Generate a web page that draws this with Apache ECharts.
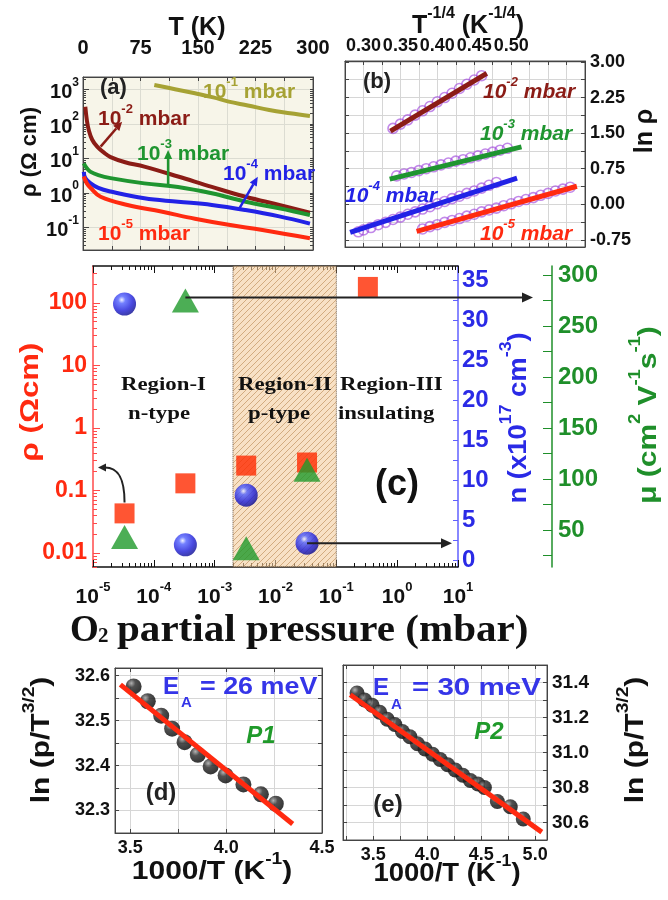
<!DOCTYPE html>
<html>
<head>
<meta charset="utf-8">
<script src="https://cdn.jsdelivr.net/npm/echarts@6/dist/echarts.min.js"></script>
<style>html,body{margin:0;background:#fff}#main{width:668px;height:900px}</style>
</head>
<body>
<div id="main"></div>
<script>
// ---- (a) resistivity vs temperature, [T (K), rho (ohm cm)]
var rhoT_1e1 = [[93,1350],[120,1020],[146,775],[170,590],[190,445],[215,345],[243,255],[270,205],[296,170]];
var rhoT_1e2 = [[3,316],[5,130],[7.5,67],[12,35],[18.5,22],[27,15],[36,11],[55,7.8],[80,5.8],[124,3],[168,1.5],[212,0.78],[256,0.45],[296,0.27]];
var rhoT_1e3 = [[1,7.2],[5,5.2],[10,4.1],[20,3.3],[36,2.7],[80,1.9],[124,1.5],[168,0.98],[212,0.56],[256,0.36],[296,0.23]];
var rhoT_1e4 = [[1,4.1],[3,2.7],[10,1.9],[20,1.4],[36,1.1],[80,0.7],[124,0.56],[168,0.45],[212,0.32],[256,0.21],[296,0.13]];
var rhoT_1e5 = [[1,3],[5,1.9],[10,1.4],[23,0.78],[58,0.45],[102,0.29],[146,0.18],[190,0.12],[234,0.085],[296,0.049]];

// ---- (b) ln rho vs T^-1/4 : measured points (open circles) and linear fits
var vrh_1e2 = [[0.34,1.60],[0.35,1.69],[0.36,1.78],[0.37,1.88],[0.38,1.97],[0.39,2.06],[0.40,2.16],[0.41,2.25],[0.42,2.34],[0.43,2.44],[0.44,2.53],[0.45,2.62],[0.46,2.71]];
var vrh_1e3 = [[0.345,0.60],[0.355,0.64],[0.365,0.67],[0.375,0.71],[0.385,0.75],[0.395,0.79],[0.405,0.83],[0.415,0.87],[0.425,0.91],[0.435,0.94],[0.445,0.98],[0.455,1.02],[0.465,1.06],[0.475,1.10],[0.485,1.14],[0.495,1.18]];
var vrh_1e4 = [[0.293,-0.58],[0.30,-0.54],[0.31,-0.49],[0.32,-0.43],[0.33,-0.38],[0.34,-0.32],[0.35,-0.27],[0.36,-0.21],[0.37,-0.16],[0.38,-0.10],[0.39,-0.05],[0.40,0.01],[0.41,0.06],[0.42,0.12],[0.43,0.17],[0.44,0.23],[0.45,0.28],[0.46,0.34],[0.47,0.40],[0.48,0.46]];
var vrh_1e5 = [[0.38,-0.52],[0.39,-0.47],[0.40,-0.43],[0.41,-0.38],[0.42,-0.34],[0.43,-0.30],[0.44,-0.25],[0.45,-0.21],[0.46,-0.16],[0.47,-0.12],[0.48,-0.08],[0.49,-0.03],[0.50,0.01],[0.51,0.06],[0.52,0.10],[0.53,0.14],[0.54,0.19],[0.55,0.23],[0.56,0.28],[0.57,0.32],[0.58,0.36]];
var fit_1e2 = [[0.3365,1.54],[0.467,2.76]];
var fit_1e3 = [[0.3356,0.53],[0.514,1.21]];
var fit_1e4 = [[0.282,-0.59],[0.508,0.55]];
var fit_1e5 = [[0.372,-0.57],[0.589,0.38]];

// ---- (c) vs O2 partial pressure (mbar)
var pO2 = [3.3e-5, 3.3e-4, 3.3e-3, 3.3e-2, 3.3e-1];
var rhoC = [0.043, 0.13, 0.25, 0.28, 180];      // ohm cm
var nC = [32, 1.9, 8.1, 2.1];                   // x1e17 cm^-3
var muC = [43, 275, 32, 109];                   // cm2/Vs
var regionII = [2e-3, 0.1];

// ---- (d), (e) ln(p/T^3/2) vs 1000/T
var invT_P1 = [3.517,3.591,3.661,3.718,3.783,3.852,3.919,3.997,4.090,4.181,4.259];
var lnP1 = [32.576,32.543,32.511,32.482,32.452,32.424,32.398,32.378,32.358,32.336,32.315];
var fit_P1 = [[3.448,32.58],[4.347,32.27]];
var invT_P2 = [3.35,3.42,3.49,3.56,3.63,3.70,3.77,3.84,3.91,3.98,4.05,4.12,4.19,4.26,4.33,4.40,4.47,4.53,4.65,4.77,4.89];
var lnP2 = [31.34,31.30,31.27,31.23,31.19,31.16,31.12,31.09,31.05,31.02,30.99,30.96,30.93,30.90,30.87,30.84,30.82,30.80,30.72,30.69,30.62];
var fit_P2 = [[3.287,31.33],[5.062,30.545]];

// ---- tick labels
var tTicksA = [0, 75, 150, 225, 300];
var rhoDecadesA = [-1, 0, 1, 2, 3];
var lnRhoTicks = [-0.75, 0, 0.75, 1.5, 2.25, 3.0];
var lnGridB = [-0.75, -0.375, 0, 0.375, 0.75, 1.125, 1.5, 1.875, 2.25, 2.625, 3.0];
var rhoDecadesC = [-2, -1, 0, 1, 2];
var rhoLabelsC = ['0.01', '0.1', '1', '10', '100'];
var nTicks = [0, 5, 10, 15, 20, 25, 30, 35];
var nGridC = [0, 2.5, 5, 7.5, 10, 12.5, 15, 17.5, 20, 22.5, 25, 27.5, 30, 32.5, 35];
var muTicks = [50, 100, 150, 200, 250, 300];
var muGridC = [25, 50, 75, 100, 125, 150, 175, 200, 225, 250, 275, 300];
var invTGridD = [3.5, 3.75, 4.0, 4.25, 4.5];
var invTTicksD = [3.5, 4.0, 4.5];
var lnTicksD = [32.3, 32.4, 32.5, 32.6];
var invTGridE = [3.25, 3.5, 3.75, 4.0, 4.25, 4.5, 4.75, 5.0];
var invTTicksE = [3.5, 4.0, 4.5, 5.0];
var lnTicksE = [30.6, 30.8, 31.0, 31.2, 31.4];

var S = 'Liberation Sans, Arial, sans-serif';
var SR = 'Liberation Serif, Times New Roman, serif';
var C_OLIVE = '#a6a234', C_DRED = '#8b1c16', C_GREEN = '#1f9530', C_BLUE = '#2222e6', C_RED = '#ff2a10';

function rich(size, color, opt) {
  opt = opt || {};
  var w = opt.weight || 'bold', st = opt.style || 'normal', fam = opt.family || S;
  var lh = Math.round(size * (opt.lh || 1.3));
  var ss = Math.round(size * (opt.ss || 0.62));
  return {
    b: {fontSize: size, fontWeight: w, fontStyle: st, fontFamily: fam, fill: color, color: color, lineHeight: lh, verticalAlign: 'bottom'},
    s: {fontSize: ss, fontWeight: w, fontStyle: st, fontFamily: fam, fill: color, color: color, verticalAlign: 'top'}
  };
}

function minorTicks(d0, d1, lo, hi) {
  var r = [];
  for (var d = d0; d <= d1; d++)
    for (var k = 2; k <= 9; k++) {
      var v = d + Math.log10(k);
      if (v > lo && v < hi) r.push(v);
    }
  return r;
}

var xs = [], ys = [];
function axis(o) {
  var a = {
    type: 'value', gridIndex: o.grid, position: o.pos, min: o.min, max: o.max, offset: o.offset || 0,
    axisLine: {show: o.line !== false, onZero: false, lineStyle: {color: o.color || '#444', width: o.lw || 1}},
    axisTick: {show: true, inside: true, length: o.tl || 4, lineStyle: {color: o.color || '#444', width: 1}},
    axisLabel: {show: false},
    splitLine: {show: !!o.split, lineStyle: {color: o.splitColor || '#d6d6d6', width: 1}}
  };
  if (o.interval != null) a.interval = o.interval;
  if (o.ticks) a.axisTick.customValues = o.ticks;
  if (o.label) a.axisLabel = o.label;
  return a;
}
function addX(o) { xs.push(axis(o)); return xs.length - 1; }
function addY(o) { ys.push(axis(o)); return ys.length - 1; }
function lab(size, color, fmt, custom, margin, extra) {
  var l = {show: true, fontSize: size, fontWeight: 'bold', fontFamily: S, color: color, margin: margin, formatter: fmt};
  if (custom) l.customValues = custom;
  return Object.assign(l, extra || {});
}

var grids = [
  {left: 83, top: 77, width: 230, height: 173, show: true, backgroundColor: '#f7f5e9', borderColor: '#555', borderWidth: 1},
  {left: 345, top: 61, width: 240, height: 186, show: true, backgroundColor: '#fff', borderColor: '#555', borderWidth: 1},
  {left: 93, top: 266, width: 365, height: 301, show: false},
  {left: 115, top: 668, width: 207, height: 165, show: true, borderColor: '#555', borderWidth: 1},
  {left: 343, top: 665, width: 204, height: 175, show: true, borderColor: '#555', borderWidth: 1}
];

// (a)
var xA = addX({grid: 0, pos: 'top', min: 0, max: 300, interval: 37.5, split: true, splitColor: '#dcdcd2',
  label: lab(20, '#111', function (v) { return tTicksA.indexOf(v) >= 0 ? String(v) : ''; }, null, 19)});
addX({grid: 0, pos: 'bottom', min: 0, max: 300, interval: 37.5});
var yA = addY({grid: 0, pos: 'left', min: -1.652, max: 3.362, ticks: rhoDecadesA, tl: 6, split: true, splitColor: '#dcdcd2',
  label: lab(20, '#111', function (v) { return '{b|10}{s|' + v + '}'; }, rhoDecadesA, 4, {rich: rich(20, '#111')})});
addY({grid: 0, pos: 'left', min: -1.652, max: 3.362, line: false, ticks: minorTicks(-2, 3, -1.652, 3.362), tl: 3});
addY({grid: 0, pos: 'right', min: -1.652, max: 3.362, ticks: minorTicks(-2, 3, -1.652, 3.362).concat(rhoDecadesA), tl: 3});

// (b)
var xB = addX({grid: 1, pos: 'top', min: 0.275, max: 0.6, interval: 0.025, split: true,
  label: lab(18, '#111', function (v) {
    var k = Math.round(v / 0.05);
    return (Math.abs(v - k * 0.05) < 1e-6 && v > 0.29 && v < 0.51) ? v.toFixed(2) : '';
  }, null, 6)});
addX({grid: 1, pos: 'bottom', min: 0.275, max: 0.6, interval: 0.025});
var yB = addY({grid: 1, pos: 'right', min: -0.9, max: 3.02, ticks: lnGridB, split: true,
  label: lab(18, '#111', function (v) { return v.toFixed(2); }, lnRhoTicks, 5)});
addY({grid: 1, pos: 'left', min: -0.9, max: 3.02, ticks: lnGridB});

// (c)
var minorC = minorTicks(-5, 0, -5, 1);
var xC = addX({grid: 2, pos: 'bottom', min: -5, max: 1, interval: 1, color: '#111', lw: 1.5, tl: 7,
  label: lab(21, '#111', function (v) { return '{b|10}{s|' + v + '}'; }, null, 14, {rich: rich(21, '#111')})});
addX({grid: 2, pos: 'bottom', min: -5, max: 1, line: false, ticks: minorC, tl: 4, color: '#111'});
addX({grid: 2, pos: 'top', min: -5, max: 1, interval: 1, color: '#111', lw: 1.5, tl: 7});
addX({grid: 2, pos: 'top', min: -5, max: 1, line: false, ticks: minorC, tl: 4, color: '#111'});
var yRho = addY({grid: 2, pos: 'left', min: -2.224, max: 2.59, color: '#ff4a4a', lw: 1.5, tl: 7, ticks: rhoDecadesC,
  label: lab(23, C_RED, function (v) { return rhoLabelsC[Math.round(v) + 2]; }, rhoDecadesC, 6)});
addY({grid: 2, pos: 'left', min: -2.224, max: 2.59, line: false, color: '#ff4a4a', tl: 4, ticks: minorTicks(-3, 2, -2.224, 2.59)});
var yN = addY({grid: 2, pos: 'right', min: -0.875, max: 36.75, color: '#6060ff', lw: 1.5, tl: 5, ticks: nGridC,
  label: lab(24, '#2a2ae6', function (v) { return String(v); }, nTicks, 4)});
var yMu = addY({grid: 2, pos: 'right', offset: 94, min: 13.7, max: 308.8, color: '#1f8f2a', lw: 1.5, tl: 9, ticks: muGridC,
  label: lab(24, '#1f8f2a', function (v) { return String(v); }, muTicks, 6)});

// (d)
var xD = addX({grid: 3, pos: 'bottom', min: 3.42, max: 4.5, ticks: invTGridD, split: true,
  label: lab(18, '#111', function (v) { return v.toFixed(1); }, invTTicksD, 6)});
addX({grid: 3, pos: 'top', min: 3.42, max: 4.5, ticks: invTGridD});
var yD = addY({grid: 3, pos: 'left', min: 32.25, max: 32.617, interval: 0.05, split: true,
  label: lab(18, '#111', function (v) { return v.toFixed(1); }, lnTicksD, 5)});
addY({grid: 3, pos: 'right', min: 32.25, max: 32.617, interval: 0.05});

// (e)
var xE = addX({grid: 4, pos: 'bottom', min: 3.22, max: 5.11, ticks: invTGridE, split: true,
  label: lab(18, '#111', function (v) { return v.toFixed(1); }, invTTicksE, 6)});
addX({grid: 4, pos: 'top', min: 3.22, max: 5.11, ticks: invTGridE});
var yE = addY({grid: 4, pos: 'right', min: 30.5, max: 31.5, interval: 0.1, split: true,
  label: lab(19, '#111', function (v) { return v.toFixed(1); }, lnTicksE, 5)});
addY({grid: 4, pos: 'left', min: 30.5, max: 31.5, interval: 0.1});

// hatch pattern for Region-II
var pc = document.createElement('canvas');
pc.width = pc.height = 6;
var g2 = pc.getContext('2d');
g2.fillStyle = 'rgba(243,205,158,0.6)';
g2.fillRect(0, 0, 6, 6);
g2.strokeStyle = 'rgba(185,135,80,0.6)';
g2.lineWidth = 1;
g2.beginPath();
g2.moveTo(0, 6); g2.lineTo(6, 0);
g2.moveTo(-1, 1); g2.lineTo(1, -1);
g2.moveTo(5, 7); g2.lineTo(7, 5);
g2.stroke();

var sphere = {type: 'radial', x: 0.38, y: 0.32, r: 0.72, colorStops: [
  {offset: 0, color: '#eef0ff'}, {offset: 0.22, color: '#5060ff'}, {offset: 0.65, color: '#1c1cd8'}, {offset: 1, color: '#0a0a8c'}]};
var ball = {type: 'radial', x: 0.35, y: 0.3, r: 0.75, colorStops: [
  {offset: 0, color: '#a0a0a0'}, {offset: 0.35, color: '#252525'}, {offset: 1, color: '#000'}]};

function logPts(arr) { return arr.map(function (p) { return [p[0], Math.log10(p[1])]; }); }
function curveA(data, color) {
  return {type: 'line', xAxisIndex: xA, yAxisIndex: yA, data: logPts(data), smooth: 0.4, showSymbol: false,
    lineStyle: {color: color, width: 4}, z: 3};
}
function pointsB(data) {
  return {type: 'scatter', xAxisIndex: xB, yAxisIndex: yB, data: data, symbol: 'circle', symbolSize: 10,
    itemStyle: {color: 'rgba(255,255,255,0)', borderColor: 'rgba(160,70,220,0.8)', borderWidth: 1.6}, z: 3};
}
function fitB(data, color) {
  return {type: 'line', xAxisIndex: xB, yAxisIndex: yB, data: data, showSymbol: false,
    lineStyle: {color: color, width: 5}, z: 4};
}

var series = [
  curveA(rhoT_1e1, C_OLIVE), curveA(rhoT_1e2, C_DRED), curveA(rhoT_1e3, C_GREEN), curveA(rhoT_1e4, C_BLUE), curveA(rhoT_1e5, C_RED),
  pointsB(vrh_1e2), fitB(fit_1e2, C_DRED),
  pointsB(vrh_1e3), fitB(fit_1e3, C_GREEN),
  pointsB(vrh_1e4), fitB(fit_1e4, C_BLUE),
  pointsB(vrh_1e5), fitB(fit_1e5, C_RED),
  {type: 'scatter', xAxisIndex: xC, yAxisIndex: yRho, symbol: 'rect', symbolSize: 20, z: 2,
    itemStyle: {color: '#ff2a00'},
    data: pO2.map(function (p, i) { return [Math.log10(p), Math.log10(rhoC[i])]; })},
  {type: 'scatter', xAxisIndex: xC, yAxisIndex: yN, symbol: 'circle', symbolSize: 23, z: 2,
    itemStyle: {color: sphere},
    data: nC.map(function (n, i) { return [Math.log10(pO2[i]), n]; })},
  {type: 'scatter', xAxisIndex: xC, yAxisIndex: yMu, symbol: 'triangle', symbolSize: [27, 24], z: 2,
    itemStyle: {color: '#1f9a2a'},
    data: muC.map(function (m, i) { return [Math.log10(pO2[i]), m]; })},
  {type: 'scatter', xAxisIndex: xC, yAxisIndex: yRho, data: [], z: 3, silent: true,
    markArea: {silent: true,
      itemStyle: {color: {image: pc, repeat: 'repeat'}, borderColor: '#6b5a48', borderWidth: 1, borderType: 'dotted'},
      data: [[{xAxis: Math.log10(regionII[0])}, {xAxis: Math.log10(regionII[1])}]]}},
  {type: 'scatter', xAxisIndex: xD, yAxisIndex: yD, symbolSize: 16, itemStyle: {color: ball}, z: 2,
    data: invT_P1.map(function (v, i) { return [v, lnP1[i]]; })},
  {type: 'line', xAxisIndex: xD, yAxisIndex: yD, data: fit_P1, showSymbol: false, lineStyle: {color: '#ff2a10', width: 5}, z: 3},
  {type: 'scatter', xAxisIndex: xE, yAxisIndex: yE, symbolSize: 15, itemStyle: {color: ball}, z: 2,
    data: invT_P2.map(function (v, i) { return [v, lnP2[i]]; })},
  {type: 'line', xAxisIndex: xE, yAxisIndex: yE, data: fit_P2, showSymbol: false, lineStyle: {color: '#ff2a10', width: 5}, z: 3}
];

var chart = echarts.init(document.getElementById('main'));
chart.setOption({animation: false, backgroundColor: '#fff', grid: grids, xAxis: xs, yAxis: ys, series: series});

// ---- annotations
function gtext(x, y, text, r, opt) {
  opt = opt || {};
  var al = opt.align || 'left';
  return {type: 'text', x: x, y: y, rotation: opt.rot || 0, scaleX: opt.sx || 1, scaleY: 1, z: 120,
    style: {text: text, rich: r, align: al, textAlign: al, verticalAlign: 'middle', textVerticalAlign: 'middle'}};
}
function arrow(p1, p2, color, w, head) {
  var ang = Math.atan2(p2[1] - p1[1], p2[0] - p1[0]);
  var hx = p2[0] - head * Math.cos(ang), hy = p2[1] - head * Math.sin(ang);
  var ox = -Math.sin(ang) * head * 0.45, oy = Math.cos(ang) * head * 0.45;
  return [
    {type: 'line', z: 110, shape: {x1: p1[0], y1: p1[1], x2: hx, y2: hy}, style: {stroke: color, lineWidth: w}},
    {type: 'polygon', z: 110, shape: {points: [[p2[0], p2[1]], [hx + ox, hy + oy], [hx - ox, hy - oy]]}, style: {fill: color}}
  ];
}
function px(xi, yi, pt) { return chart.convertToPixel({xAxisIndex: xi, yAxisIndex: yi}, pt); }
function pa(t, r) { return px(xA, yA, [t, Math.log10(r)]); }

var VERT = Math.PI / 2;
var els = [];
// (a)
els.push(gtext(100, 84, '{b|(a)}', rich(22, '#222')));
els.push(gtext(203, 89, '{b|10}{s|-1}{b| mbar}', rich(21, C_OLIVE)));
els.push(gtext(98, 116, '{b|10}{s|-2}{b| mbar}', rich(21, C_DRED)));
els.push(gtext(137, 151, '{b|10}{s|-3}{b| mbar}', rich(21, C_GREEN)));
els.push(gtext(223, 171, '{b|10}{s|-4}{b| mbar}', rich(21, C_BLUE)));
els.push(gtext(98, 231, '{b|10}{s|-5}{b| mbar}', rich(21, C_RED)));
els = els.concat(arrow(pa(23, 22), pa(51, 117), C_DRED, 2.5, 9));
els = els.concat(arrow(pa(111, 1.7), pa(111, 17.7), C_GREEN, 2.5, 9));
els = els.concat(arrow(pa(204, 0.36), pa(228, 2.97), C_BLUE, 2.5, 9));
els.push(gtext(197, 24, '{b|T (K)}', rich(25, '#111'), {align: 'center'}));
els.push(gtext(26, 152, '{b|ρ (Ω cm)}', rich(22, '#111'), {align: 'center', rot: VERT}));
// (b)
els.push(gtext(363, 78, '{b|(b)}', rich(22, '#222')));
var itB = {style: 'italic'};
els.push(gtext(483, 89, '{b|10}{s|-2}{b| mbar}', rich(21, C_DRED, itB)));
els.push(gtext(480, 131, '{b|10}{s|-3}{b| mbar}', rich(21, C_GREEN, itB)));
els.push(gtext(345, 193, '{b|10}{s|-4}{b| mbar}', rich(21, C_BLUE, itB)));
els.push(gtext(480, 231, '{b|10}{s|-5}{b| mbar}', rich(21, C_RED, itB)));
els.push(gtext(468, 22, '{b|T}{s|-1/4}{b| (K}{s|-1/4}{b|)}', rich(25, '#111'), {align: 'center'}));
els.push(gtext(641, 131, '{b|ln ρ}', rich(25, '#111'), {align: 'center', rot: VERT}));
// (c)
var rs = rich(19, '#111', {family: SR});
els.push(gtext(121, 382, '{b|Region-I}', rs, {sx: 1.2}));
els.push(gtext(128, 411, '{b|n-type}', rs, {sx: 1.2}));
els.push(gtext(238, 382, '{b|Region-II}', rs, {sx: 1.2}));
els.push(gtext(248, 411, '{b|p-type}', rs, {sx: 1.2}));
els.push(gtext(340, 382, '{b|Region-III}', rs, {sx: 1.2}));
els.push(gtext(338, 411, '{b|insulating}', rs, {sx: 1.2}));
els.push(gtext(397, 480, '{b|(c)}', rich(36, '#111'), {align: 'center'}));
els.push(gtext(27, 402, '{b|ρ (Ωcm)}', rich(26, C_RED), {align: 'center', rot: VERT, sx: 1.2}));
els.push(gtext(515, 418, '{b|n (x10}{s|17}{b| cm}{s|-3}{b|)}', rich(25, '#2a2ae6'), {align: 'center', rot: VERT, sx: 1.1}));
els.push(gtext(645, 415, '{b|μ (cm}{s|2}{b| V}{s|-1}{b|s}{s|-1}{b|)}', rich(26, '#1f8f2a'), {align: 'center', rot: VERT, sx: 1.15}));
var rT = rich(37, '#111', {family: SR});
els.push(gtext(70, 626, '{b|O}', rT));
els.push(gtext(98, 634, '{b|2}', rich(21, '#111', {family: SR})));
els.push(gtext(117, 626, '{b|partial pressure (mbar)}', rT, {sx: 1.11}));
var pTri = px(xC, yMu, [Math.log10(pO2[1]), muC[1]]);
var muAxisX = px(xC, yN, [1, 0])[0] + 94;
els = els.concat(arrow([pTri[0], pTri[1] - 3], [muAxisX - 19, pTri[1] - 3], '#222', 2, 11));
var pSph = px(xC, yN, [Math.log10(pO2[3]), nC[3]]);
els = els.concat(arrow([pSph[0], pSph[1]], [px(xC, yN, [1, 0])[0] - 6, pSph[1]], '#222', 2, 11));
var pSq = px(xC, yRho, [Math.log10(pO2[0]), Math.log10(rhoC[0])]);
var left = px(xC, yRho, [-5, 0])[0];
els.push({type: 'bezierCurve', z: 110, shape: {x1: pSq[0], y1: pSq[1] - 11, cpx1: pSq[0], cpy1: pSq[1] - 38,
  cpx2: pSq[0] - 8, cpy2: pSq[1] - 46, x2: left + 12, y2: pSq[1] - 46}, style: {stroke: '#222', lineWidth: 2, fill: null}});
els.push({type: 'polygon', z: 110, shape: {points: [[left + 5, pSq[1] - 46], [left + 13, pSq[1] - 50], [left + 13, pSq[1] - 42]]}, style: {fill: '#222'}});
// (d)
var rE = rich(24, '#3535e8'), rA = rich(15, '#3535e8');
els.push(gtext(163, 684, '{b|E}', rE));
els.push(gtext(181, 700, '{b|A}', rA));
els.push(gtext(200, 684, '{b|= 26 meV}', rE, {sx: 1.12}));
els.push(gtext(261, 733, '{b|P1}', rich(24, '#1f9a2a', {style: 'italic'}), {align: 'center'}));
els.push(gtext(161, 790, '{b|(d)}', rich(24, '#222'), {align: 'center'}));
els.push(gtext(38, 740, '{b|ln (p/T}{s|3/2}{b|)}', rich(25, '#111'), {align: 'center', rot: VERT, sx: 1.2}));
els.push(gtext(212, 868, '{b|1000/T (K}{s|-1}{b|)}', rich(25, '#111'), {align: 'center', sx: 1.2}));
// (e)
els.push(gtext(373, 685, '{b|E}', rE));
els.push(gtext(391, 702, '{b|A}', rA));
els.push(gtext(412, 685, '{b|= 30 meV}', rE, {sx: 1.23}));
els.push(gtext(489, 729, '{b|P2}', rich(24, '#1f9a2a', {style: 'italic'}), {align: 'center'}));
els.push(gtext(388, 802, '{b|(e)}', rich(24, '#222'), {align: 'center'}));
els.push(gtext(632, 740, '{b|ln (p/T}{s|3/2}{b|)}', rich(25, '#111'), {align: 'center', rot: VERT, sx: 1.2}));
els.push(gtext(447, 870, '{b|1000/T (K}{s|-1}{b|)}', rich(25, '#111'), {align: 'center', sx: 1.1}));

chart.setOption({graphic: {elements: els}});
</script>
</body>
</html>
